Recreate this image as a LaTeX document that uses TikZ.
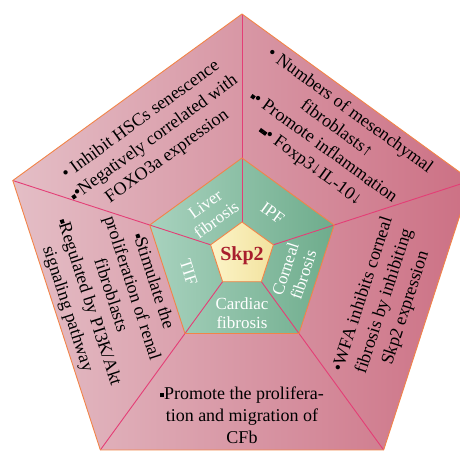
\documentclass[tikz,border=0pt]{standalone}
\usepackage{fontspec}
\setmainfont{Liberation Serif}
\usetikzlibrary{positioning}
\definecolor{pinkL}{RGB}{228,190,198}
\definecolor{pinkR}{RGB}{204,112,132}
\definecolor{greenL}{RGB}{168,210,190}
\definecolor{greenR}{RGB}{110,172,140}
\definecolor{yelL}{RGB}{252,244,200}
\definecolor{yelR}{RGB}{242,226,158}
\definecolor{rimcol}{RGB}{242,132,72}
\definecolor{spokecol}{RGB}{228,62,118}
\definecolor{skpred}{RGB}{168,30,45}
\newcommand{\sqb}{\raisebox{0.12em}{\rule{0.22em}{0.22em}}}

\begin{document}
\begin{tikzpicture}[x=1pt,y=1pt,
    outtxt/.style={align=center, font=\fontsize{18}{22.5}\selectfont, text=black},
    midtxt/.style={align=center, font=\fontsize{17}{19}\selectfont, text=white},
    rim/.style={draw=rimcol, line width=0.9pt, line join=round},
    spoke/.style={draw=spokecol, line width=0.9pt}
  ]
  \useasboundingbox (-242,-196) rectangle (218,255);
  \clip (-242,-196) rectangle (218,255);

  % corners of the three pentagons (outer, middle, core)
  \foreach \i/\a in {1/90,2/162,3/234,4/306,5/18}{
    \coordinate (o\i) at (\a:241);
    \coordinate (m\i) at (\a:97);
    \coordinate (c\i) at (\a:33);
  }

  \shade[left color=pinkL, right color=pinkR]   (o1)--(o2)--(o3)--(o4)--(o5)--cycle;
  \shade[left color=greenL, right color=greenR] (m1)--(m2)--(m3)--(m4)--(m5)--cycle;
  \shade[left color=yelL, right color=yelR]     (c1)--(c2)--(c3)--(c4)--(c5)--cycle;

  \foreach \i in {1,...,5} \draw[spoke] (c\i)--(o\i);
  \draw[rim] (o1)--(o2)--(o3)--(o4)--(o5)--cycle;
  \draw[rim] (m1)--(m2)--(m3)--(m4)--(m5)--cycle;
  \draw[rim] (c1)--(c2)--(c3)--(c4)--(c5)--cycle;

  % outer ring: findings
  \node[outtxt, rotate=36]  (hsc)   at (127:146) {\textbullet\ Inhibit HSCs senescence\\\sqb\textbullet Negatively correlated with\\FOXO3a expression};
  \node[outtxt, rotate=-36] (mesen) at (53:146)  {\textbullet\ Numbers of mesenchymal\\fibroblasts↑\\\sqb\textbullet\ Promote inflammation\\\sqb\sqb\textbullet\ Foxp3↓IL-10↓};
  \node[outtxt, rotate=72]  (wfa)   at (342:150) {\textbullet WFA inhibits corneal\\fibrosis by inhibiting\\Skp2 expression};
  \node[outtxt, font=\fontsize{18}{22}\selectfont] (cfb) at (270:160) {\sqb Promote the prolifera-\\tion and migration of\\CFb};
  \node[outtxt, rotate=-72] (renal) at (197:138) {\sqb Stimulate the\\proliferation of renal\\fibroblasts\\\sqb Regulated by PI3K/Akt\\signaling pathway};

  % middle ring: diseases
  \node[midtxt, rotate=36]  (liver)   at (126:53) {Liver\\fibrosis};
  \node[midtxt, rotate=-36] (ipf)     at (54:52)  {IPF};
  \node[midtxt, rotate=72]  (corneal) at (342:55) {Corneal\\fibrosis};
  \node[midtxt]             (cardiac) at (270:58) {Cardiac\\fibrosis};
  \node[midtxt, rotate=-72] (tif)     at (198:56) {TIF};

  \node[font=\fontsize{20}{22}\selectfont\bfseries, text=skpred] (skp) at (0,-1) {Skp2};
\end{tikzpicture}
\end{document}
